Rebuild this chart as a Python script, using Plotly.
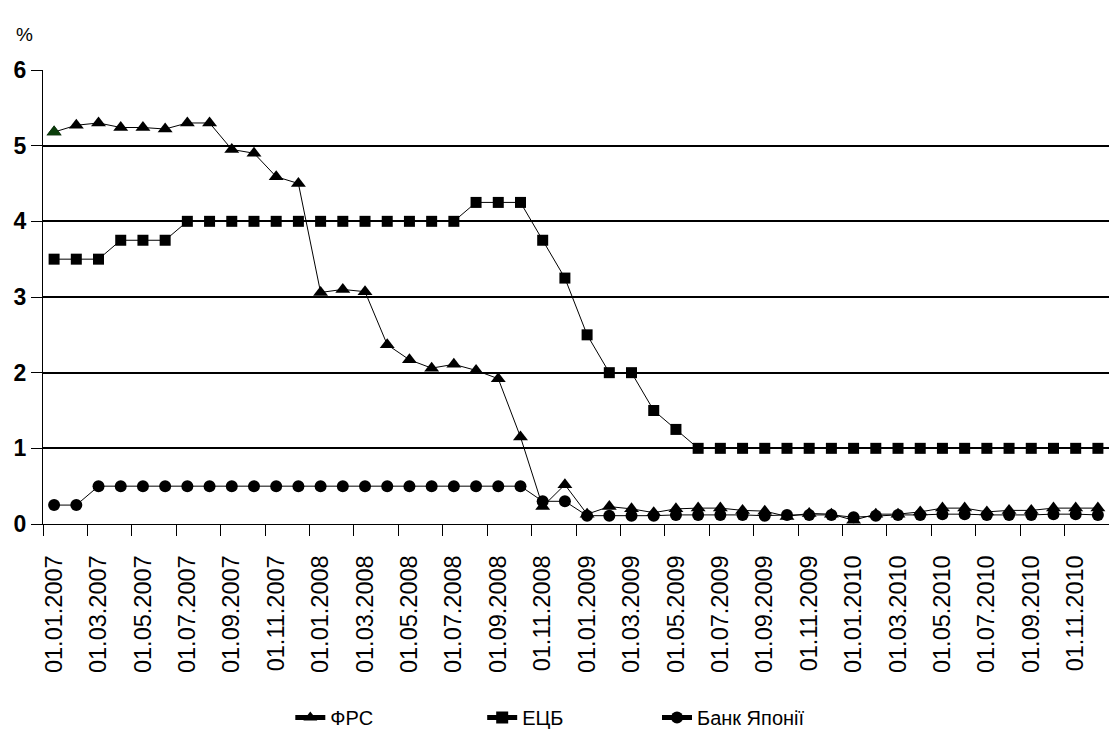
import plotly.graph_objects as go

# Monthly observations, January 2007 - December 2010
months = [f"01.{m:02d}.{y}" for y in (2007, 2008, 2009, 2010) for m in range(1, 13)]

# Federal Reserve (ФРС), %
frs = [5.18, 5.27, 5.30, 5.24, 5.24, 5.22, 5.30, 5.30, 4.95, 4.90, 4.59, 4.50,
       3.06, 3.10, 3.07, 2.37, 2.17, 2.06, 2.11, 2.03, 1.92, 1.15, 0.23, 0.52,
       0.13, 0.23, 0.20, 0.15, 0.20, 0.21, 0.21, 0.18, 0.17, 0.10, 0.14, 0.13,
       0.05, 0.13, 0.13, 0.16, 0.21, 0.21, 0.16, 0.18, 0.18, 0.21, 0.21, 0.21]

# European Central Bank (ЕЦБ), %
ecb = [3.50, 3.50, 3.50, 3.75, 3.75, 3.75, 4.00, 4.00, 4.00, 4.00, 4.00, 4.00,
       4.00, 4.00, 4.00, 4.00, 4.00, 4.00, 4.00, 4.25, 4.25, 4.25, 3.75, 3.25,
       2.50, 2.00, 2.00, 1.50, 1.25, 1.00, 1.00, 1.00, 1.00, 1.00, 1.00, 1.00,
       1.00, 1.00, 1.00, 1.00, 1.00, 1.00, 1.00, 1.00, 1.00, 1.00, 1.00, 1.00]

# Bank of Japan (Банк Японії), %
boj = [0.25, 0.25, 0.50, 0.50, 0.50, 0.50, 0.50, 0.50, 0.50, 0.50, 0.50, 0.50,
       0.50, 0.50, 0.50, 0.50, 0.50, 0.50, 0.50, 0.50, 0.50, 0.50, 0.30, 0.30,
       0.11, 0.11, 0.11, 0.11, 0.12, 0.12, 0.12, 0.12, 0.11, 0.12, 0.12, 0.12,
       0.09, 0.11, 0.12, 0.12, 0.13, 0.13, 0.12, 0.12, 0.12, 0.13, 0.13, 0.12]

y_ticks = [0, 1, 2, 3, 4, 5, 6]

x = list(range(len(months)))
label_pos = x[::2]
label_text = months[::2]
boundaries = [i - 0.5 for i in range(0, len(months) + 1, 2)]

FONT = "Liberation Sans, Arial, sans-serif"

fig = go.Figure()

fig.add_trace(go.Scatter(
    x=x, y=frs, name="ФРС", mode="lines+markers",
    line=dict(color="black", width=1),
    marker=dict(symbol="triangle-up", size=13, color="black", line=dict(width=0)),
    legend="legend",
))
# the first FRS point is highlighted in dark green
fig.add_trace(go.Scatter(
    x=x[:1], y=frs[:1], mode="markers", showlegend=False, hoverinfo="skip",
    marker=dict(symbol="triangle-up", size=13, color="#0b3d0b", line=dict(width=0)),
))
fig.add_trace(go.Scatter(
    x=x, y=ecb, name="ЕЦБ", mode="lines+markers",
    line=dict(color="black", width=1),
    marker=dict(symbol="square", size=11, color="black", line=dict(width=0)),
    legend="legend2",
))
fig.add_trace(go.Scatter(
    x=x, y=boj, name="Банк Японії", mode="lines+markers",
    line=dict(color="black", width=1),
    marker=dict(symbol="circle", size=12, color="black", line=dict(width=0)),
    legend="legend3",
))

# invisible trace carrying the boundary tick marks on the overlay axis
fig.add_trace(go.Scatter(x=[boundaries[0], boundaries[-1]], y=[0, 0],
                         xaxis="x2", mode="none", showlegend=False,
                         hoverinfo="skip"))

legend_common = dict(
    orientation="h", yanchor="middle", xanchor="left",
    font=dict(family=FONT, size=20, color="black"),
    bgcolor="rgba(0,0,0,0)", borderwidth=0, itemsizing="constant",
)

fig.update_layout(
    width=1109, height=737,
    margin=dict(l=43, r=0, t=70, b=213),
    paper_bgcolor="white", plot_bgcolor="white",
    xaxis=dict(
        range=[-0.5, len(months) - 0.5],
        tickmode="array", tickvals=label_pos, ticktext=label_text,
        tickangle=-90, ticks="outside", ticklen=21,
        tickcolor="rgba(0,0,0,0)",
        tickfont=dict(family=FONT, size=23.5, color="black"),
        showgrid=False, zeroline=False,
        showline=True, linecolor="black", linewidth=1,
    ),
    xaxis2=dict(
        overlaying="x", matches="x", side="bottom",
        range=[-0.5, len(months) - 0.5],
        tickmode="array", tickvals=boundaries,
        ticks="outside", ticklen=11, tickcolor="black", tickwidth=1,
        showticklabels=False, showgrid=False, zeroline=False,
        showline=False,
    ),
    yaxis=dict(
        range=[0, 6], tickmode="array", tickvals=y_ticks,
        ticks="outside", ticklen=11, tickcolor="black",
        tickfont=dict(family=FONT, size=23, color="black", weight="bold"),
        showgrid=True, gridcolor="black", gridwidth=1.5,
        zeroline=False, showline=True, linecolor="black", linewidth=1,
    ),
    legend=dict(x=0.232, y=-0.427, **legend_common),
    legend2=dict(x=0.412, y=-0.427, **legend_common),
    legend3=dict(x=0.576, y=-0.427, **legend_common),
    annotations=[dict(
        text="%", xref="paper", yref="paper", x=-0.027, y=1.106,
        showarrow=False, font=dict(family=FONT, size=19, color="black"),
    )],
    showlegend=True,
)

fig.write_html("out.html")
